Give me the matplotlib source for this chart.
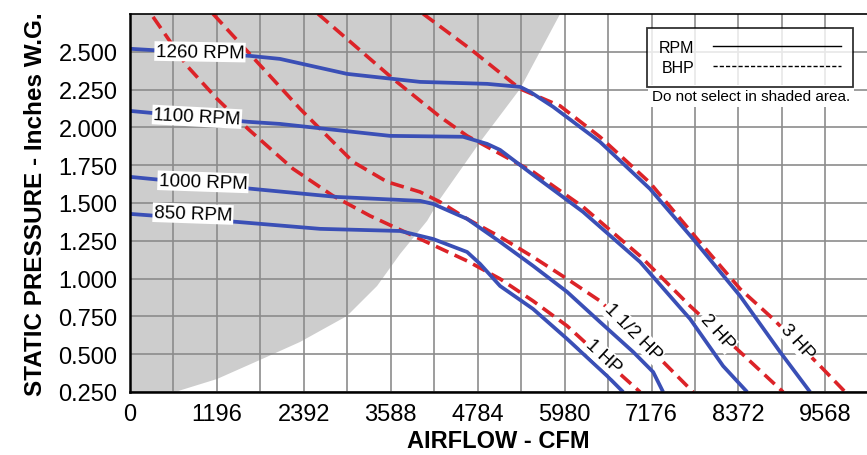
import numpy as np
import matplotlib
matplotlib.use("Agg")
import matplotlib.pyplot as plt
from matplotlib.lines import Line2D
from matplotlib.ticker import MultipleLocator

plt.rcParams.update({
    "font.family": ["Liberation Sans", "DejaVu Sans"],
    "font.size": 12,
})

BLUE = "#3a4fb6"
RED = "#dc2328"
GRID = "#8c8c8c"
SHADE = "#cdcdcd"

# ── fan curves: airflow (CFM) vs static pressure (in. W.G.) ──
rpm_1260_x = [0, 1651, 2064, 2986, 3991, 4913, 5367, 5505, 5822, 6467, 7155, 7747, 8394, 8944, 9357]
rpm_1260_y = [2.520, 2.473, 2.453, 2.354, 2.301, 2.288, 2.268, 2.235, 2.136, 1.904, 1.593, 1.262, 0.885, 0.515, 0.25]

rpm_1100_x = [0, 1624, 2064, 3578, 4583, 4913, 5092, 5546, 6234, 7018, 7706, 8160, 8491]
rpm_1100_y = [2.109, 2.037, 2.023, 1.944, 1.938, 1.891, 1.851, 1.686, 1.441, 1.110, 0.733, 0.422, 0.25]

rpm_1000_x = [0, 1693, 2849, 3991, 4170, 4638, 5092, 5546, 6014, 6467, 6923, 7198, 7335]
rpm_1000_y = [1.673, 1.593, 1.540, 1.514, 1.494, 1.395, 1.243, 1.084, 0.912, 0.713, 0.515, 0.382, 0.25]

rpm_850_x = [0, 1472, 2615, 3716, 4170, 4638, 4817, 5092, 5546, 6014, 6565, 6785]
rpm_850_y = [1.428, 1.375, 1.329, 1.315, 1.262, 1.176, 1.097, 0.951, 0.799, 0.601, 0.356, 0.25]

# ── brake horsepower lines ──
hp_1_x = [317, 784, 1197, 1624, 2243, 2794, 3303, 3991, 4638, 5092, 5546, 6014, 6467, 7018]
hp_1_y = [2.731, 2.407, 2.189, 1.990, 1.726, 1.547, 1.415, 1.262, 1.117, 0.998, 0.852, 0.687, 0.488, 0.25]

hp_15_x = [1142, 2340, 2615, 3069, 3537, 3991, 4266, 4638, 5092, 5546, 6014, 6467, 6923, 7336, 7747]
hp_15_y = [2.751, 2.123, 1.990, 1.772, 1.640, 1.573, 1.507, 1.395, 1.276, 1.143, 0.998, 0.852, 0.647, 0.449, 0.25]

hp_2_x = [2587, 3620, 4266, 4638, 5092, 5546, 6234, 7018, 7706, 8077, 8394, 8986]
hp_2_y = [2.751, 2.321, 2.070, 1.944, 1.825, 1.706, 1.474, 1.150, 0.819, 0.654, 0.515, 0.25]

hp_3_x = [4033, 4679, 5367, 5918, 6467, 7155, 7802, 8394, 8849, 9496, 9840]
hp_3_y = [2.751, 2.520, 2.255, 2.142, 1.937, 1.633, 1.263, 0.932, 0.733, 0.422, 0.25]

# edge of the "do not select" region
shade_x = [619, 1197, 1816, 2340, 2986, 3399, 3716, 4088, 4266, 4817, 5367, 5918]
shade_y = [0.25, 0.336, 0.468, 0.581, 0.753, 0.951, 1.163, 1.382, 1.527, 1.904, 2.255, 2.751]

x_ticks = [0, 1196, 2392, 3588, 4784, 5980, 7176, 8372, 9568]
y_ticks = [0.25, 0.50, 0.75, 1.00, 1.25, 1.50, 1.75, 2.00, 2.25, 2.50]

rpm_labels = [("1260 RPM", 963, 2.50, -1), ("1100 RPM", 922, 2.07, -3),
              ("1000 RPM", 1005, 1.64, -2), ("850 RPM", 867, 1.43, -2)]
hp_labels = [("1 HP", 6508, 0.488, -43), ("1 1/2 HP", 6921, 0.647, -45),
             ("2 HP", 8077, 0.647, -48), ("3 HP", 9178, 0.587, -48)]


def main():
    fig = plt.figure(figsize=(8.67, 4.56), dpi=100)
    ax = fig.add_axes([130 / 867, 1 - 393 / 456, 737 / 867, 378 / 456])

    # shaded area
    ax.fill(np.r_[0, shade_x, 0], np.r_[0.25, shade_y, 2.75],
            color=SHADE, linewidth=0, zorder=1)

    for xs, ys in [(hp_1_x, hp_1_y), (hp_15_x, hp_15_y), (hp_2_x, hp_2_y), (hp_3_x, hp_3_y)]:
        ax.plot(xs, ys, color=RED, linewidth=2.6, dashes=(3.8, 1.9), zorder=2)
    for xs, ys in [(rpm_1260_x, rpm_1260_y), (rpm_1100_x, rpm_1100_y),
                   (rpm_1000_x, rpm_1000_y), (rpm_850_x, rpm_850_y)]:
        ax.plot(xs, ys, color=BLUE, linewidth=2.7, solid_capstyle="butt",
                solid_joinstyle="round", zorder=2.5)

    box = dict(facecolor="white", edgecolor="none", pad=1.0)
    for txt, x, y, rot in rpm_labels:
        ax.text(x, y, txt, fontsize=13.5, ha="center", va="center", rotation=rot,
                rotation_mode="anchor", bbox=box, zorder=4)
    for txt, x, y, rot in hp_labels:
        ax.text(x, y, txt, fontsize=13.5, ha="center", va="center", rotation=rot,
                rotation_mode="anchor", bbox=box, zorder=4)

    ax.set_xlim(0, 10140)
    ax.set_ylim(0.25, 2.75)
    ax.set_xticks(x_ticks)
    ax.set_xticklabels([str(v) for v in x_ticks])
    ax.xaxis.set_minor_locator(MultipleLocator(598))
    ax.set_yticks(y_ticks)
    ax.set_yticklabels([f"{v:.3f}" for v in y_ticks])
    ax.tick_params(axis="both", which="both", length=0)
    ax.tick_params(axis="x", pad=8, labelsize=17)
    ax.tick_params(axis="y", pad=9, labelsize=17)
    ax.grid(True, which="both", color=GRID, linewidth=1.2)

    for side in ["left", "bottom"]:
        ax.spines[side].set_linewidth(1.8)
    ax.spines["top"].set_linewidth(1.2)
    ax.spines["right"].set_visible(False)

    ax.set_xlabel("AIRFLOW - CFM", fontsize=17, fontweight="bold", labelpad=3)
    ax.set_ylabel("STATIC PRESSURE - Inches W.G.", fontsize=17.5, fontweight="bold", labelpad=8)

    handles = [Line2D([], [], color="black", linewidth=1.0),
               Line2D([], [], color="black", linewidth=1.0, dashes=(3, 1.5))]
    leg = ax.legend(handles, ["RPM", "BHP"], loc="upper right",
                    bbox_to_anchor=(0.981, 0.963), borderaxespad=0,
                    markerfirst=False, handlelength=8.0, handletextpad=1.2,
                    fontsize=11.5, frameon=True, fancybox=False,
                    borderpad=0.75, labelspacing=0.3)
    leg.get_frame().set_edgecolor("black")
    leg.get_frame().set_linewidth(1.3)
    leg.set_zorder(6)

    ax.text(0.708, 0.783, "Do not select in shaded area.", transform=ax.transAxes,
            fontsize=11, ha="left", va="center",
            bbox=dict(facecolor="white", edgecolor="none", pad=3), zorder=6)

    fig.savefig("out.png", dpi=100)
    plt.close(fig)


if __name__ == "__main__":
    main()
